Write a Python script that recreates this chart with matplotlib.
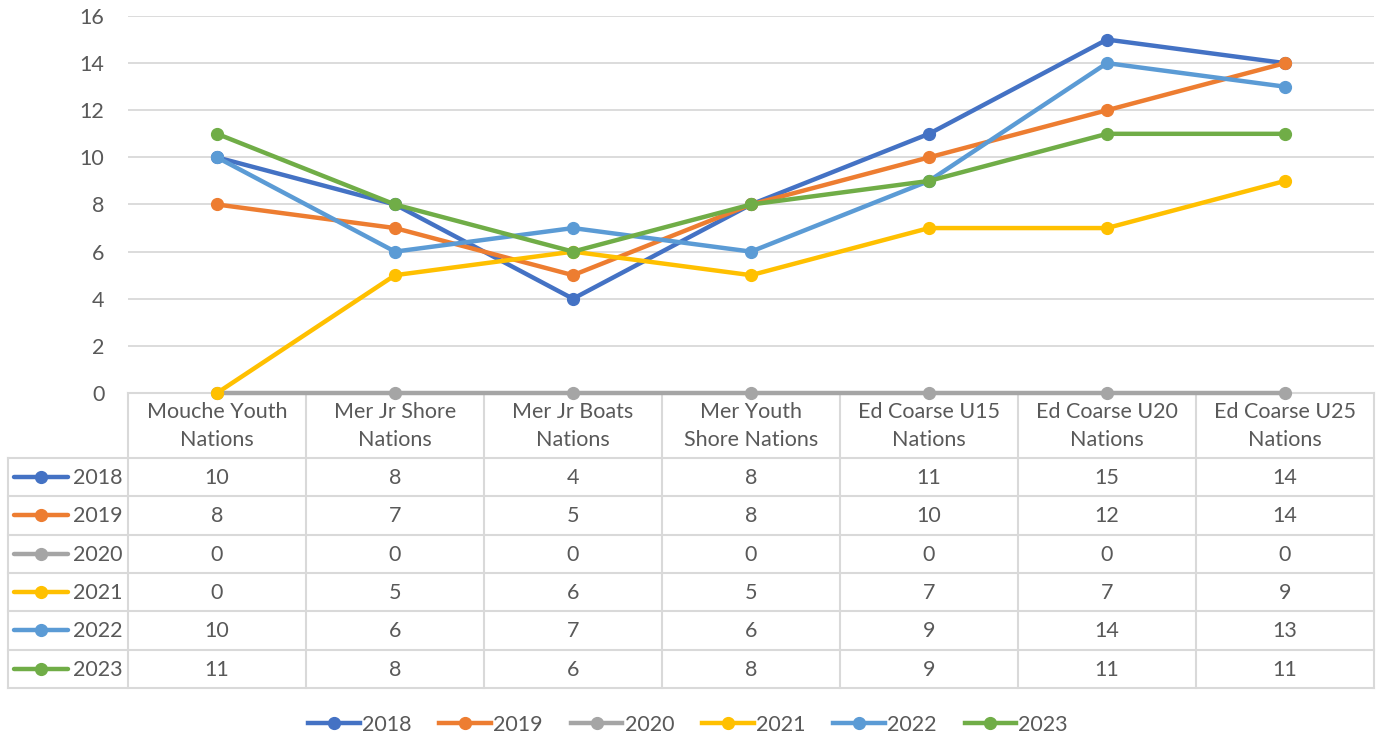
import matplotlib
matplotlib.use("Agg")
import matplotlib.pyplot as plt
from matplotlib.lines import Line2D

categories = ["Mouche Youth\nNations", "Mer Jr Shore\nNations", "Mer Jr Boats\nNations",
              "Mer Youth\nShore Nations", "Ed Coarse U15\nNations", "Ed Coarse U20\nNations",
              "Ed Coarse U25\nNations"]
series_names = ["2018", "2019", "2020", "2021", "2022", "2023"]
v2018 = [10, 8, 4, 8, 11, 15, 14]
v2019 = [8, 7, 5, 8, 10, 12, 14]
v2020 = [0, 0, 0, 0, 0, 0, 0]
v2021 = [0, 5, 6, 5, 7, 7, 9]
v2022 = [10, 6, 7, 6, 9, 14, 13]
v2023 = [11, 8, 6, 8, 9, 11, 11]
series_values = [v2018, v2019, v2020, v2021, v2022, v2023]
colors = ["#4472C4", "#ED7D31", "#A5A5A5", "#FFC000", "#5B9BD5", "#70AD47"]
yticks = [0, 2, 4, 6, 8, 10, 12, 14, 16]

FONT = "Lato"
TXT = "#595959"
GRID = "#D9D9D9"
FS = 15.5

W, H = 1376, 738
fig = plt.figure(figsize=(W / 100, H / 100), dpi=100)

# layout (pixels)
x_left, x_right = 128, 1374
y_top, y_axis = 16, 393
header_bottom = 458
row_h = 38.3
tab_left = 8

ax = fig.add_axes([x_left / W, 1 - y_axis / H, (x_right - x_left) / W, (y_axis - y_top) / H])
n = len(categories)
xs = list(range(n))
for name, vals, c in zip(series_names, series_values, colors):
    ax.plot(xs, vals, color=c, lw=3.2, marker="o", ms=8.5, solid_capstyle="round",
            zorder=3, clip_on=False, label=name)
ax.set_xlim(-0.5, n - 0.5)
ax.set_ylim(0, 16)
ax.set_yticks(yticks)
ax.set_yticklabels([str(t) for t in yticks], fontsize=FS, color=TXT, family=FONT)
ax.tick_params(axis="y", length=0, pad=17)
ax.set_xticks([])
ax.grid(axis="y", color=GRID, lw=1.3)
ax.set_axisbelow(True)
for s in ["top", "right", "left"]:
    ax.spines[s].set_visible(False)
ax.spines["bottom"].set_color(GRID)
ax.spines["bottom"].set_linewidth(1.5)

# table overlay in pixel coordinates
tax = fig.add_axes([0, 0, 1, 1], zorder=-1)
tax.set_xlim(0, W)
tax.set_ylim(H, 0)
tax.axis("off")
col_w = (x_right - x_left) / n
table_bottom = header_bottom + row_h * len(series_names)
for i in range(n + 1):
    x = x_left + i * col_w
    tax.plot([x, x], [y_axis, table_bottom], color=GRID, lw=1.5)
tax.plot([tab_left, tab_left], [header_bottom, table_bottom], color=GRID, lw=1.5)
for r in range(len(series_names) + 1):
    y = header_bottom + r * row_h
    tax.plot([tab_left, x_right], [y, y], color=GRID, lw=1.5)
for i, cat in enumerate(categories):
    tax.text(x_left + (i + 0.5) * col_w, (y_axis + header_bottom) / 2 + 1, cat, ha="center",
             va="center", fontsize=FS, color=TXT, family=FONT, linespacing=1.5)
for r, (name, vals, c) in enumerate(zip(series_names, series_values, colors)):
    yc = header_bottom + (r + 0.5) * row_h
    tax.plot([14, 68], [yc, yc], color=c, lw=3.2, solid_capstyle="round")
    tax.plot([41], [yc], marker="o", ms=8.5, color=c)
    tax.text(73, yc + 1, name, ha="left", va="center", fontsize=FS, color=TXT, family=FONT)
    for i, v in enumerate(vals):
        tax.text(x_left + (i + 0.5) * col_w, yc + 1, str(v), ha="center", va="center",
                 fontsize=FS, color=TXT, family=FONT)

handles = [Line2D([], [], color=c, lw=3.2, marker="o", ms=8.5) for c in colors]
fig.legend(handles, series_names, loc="center", bbox_to_anchor=(0.5, 1 - 725 / H), ncol=6,
           frameon=False, prop={"family": FONT, "size": FS}, labelcolor=TXT,
           handlelength=2.4, handletextpad=0.1, columnspacing=1.3)

fig.savefig("out.png", dpi=100)
